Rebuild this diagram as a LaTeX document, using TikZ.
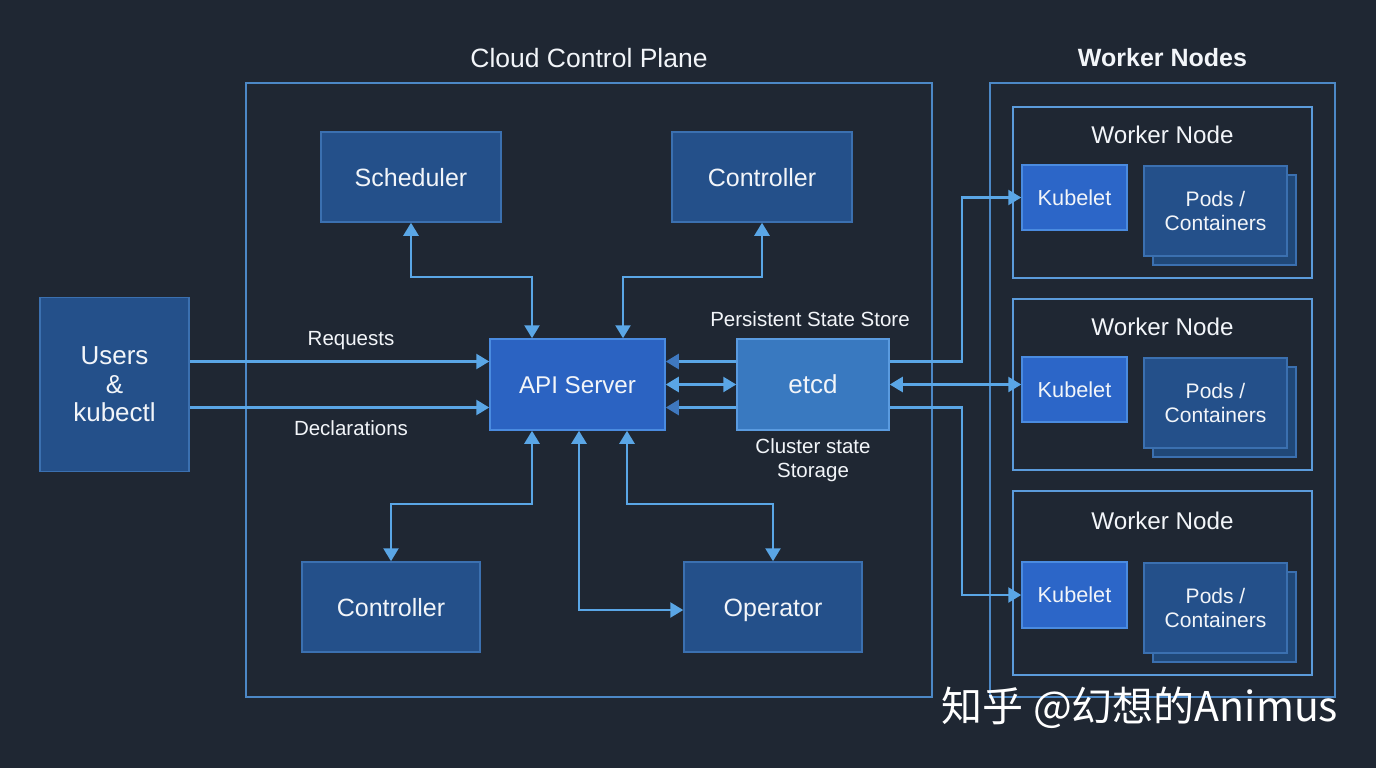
\documentclass[tikz,border=0pt]{standalone}
\usepackage{fontspec}
\setmainfont{Liberation Sans}
\newfontfamily\cjkwm{Noto Sans CJK SC}
\usetikzlibrary{arrows.meta}
\definecolor{bg}{HTML}{1F2733}
\definecolor{framec}{HTML}{4C88C6}
\definecolor{wnframe}{HTML}{5B9BDB}
\definecolor{boxfill}{HTML}{24508A}
\definecolor{boxline}{HTML}{3B70B0}
\definecolor{apifill}{HTML}{2B63C2}
\definecolor{apiline}{HTML}{4A8BE0}
\definecolor{etcdfill}{HTML}{3979C0}
\definecolor{etcdline}{HTML}{5A9BE0}
\definecolor{kubfill}{HTML}{2C66C8}
\definecolor{podback}{HTML}{204878}
\definecolor{arrowc}{HTML}{5AA6E6}
\definecolor{arrowdk}{HTML}{3F78BF}
\definecolor{txt}{HTML}{F2F5F9}
\begin{document}
\begin{tikzpicture}[x=1pt,y=-1pt,
  frame/.style={draw=framec,line width=2pt,inner sep=0pt},
  wnbox/.style={draw=wnframe,line width=2pt,inner sep=0pt,minimum width=299pt},
  box/.style={draw=boxline,fill=boxfill,line width=1.5pt,text=txt,inner sep=0pt,align=center,font=\fontsize{25}{30}\selectfont},
  oneline/.style={text height=#1,text depth=0pt},
  oneline/.default=18pt,
  apibox/.style={box,oneline=17.4pt,draw=apiline,fill=apifill},
  etcdbox/.style={box,oneline=17pt,draw=etcdline,fill=etcdfill},
  kubbox/.style={box,oneline=15.6pt,draw=apiline,fill=kubfill,minimum width=105pt,font=\fontsize{21.7}{26}\selectfont},
  podbox/.style={box,minimum width=143pt,minimum height=90pt,font=\fontsize{21}{24.5}\selectfont},
  podbk/.style={draw=boxline,fill=podback,line width=1.5pt,inner sep=0pt,minimum width=143pt,minimum height=90pt},
  lbl/.style={text=txt,font=\fontsize{20.5}{24}\selectfont,align=center,inner sep=0pt},
  ttl/.style={text=txt,font=\fontsize{26.5}{30}\selectfont,inner sep=0pt},
  arr/.style={draw=arrowc,line width=2.5pt,-{Triangle[length=13pt,width=15pt]}},
  arrdk/.style={draw=arrowc,line width=2.5pt,-{Triangle[length=13pt,width=15pt,color=arrowdk]}},
  biarr/.style={draw=arrowc,line width=2.5pt,{Triangle[length=13pt,width=15pt]}-{Triangle[length=13pt,width=15pt]}}
]
\fill[bg] (0,0) rectangle (1376,768);
\useasboundingbox (0,0) rectangle (1376,768);

% frames
\node[frame,minimum width=686pt,minimum height=614pt] (cp) at (589,390) {};
\node[ttl] (cptitle) at (589,58) {Cloud Control Plane};
\node[frame,minimum width=345pt,minimum height=614pt] (wk) at (1162.5,390) {};
\node[ttl,font=\fontsize{25}{30}\selectfont\bfseries] (wktitle) at (1162.5,58) {Worker Nodes};

% worker nodes
\node[wnbox,minimum height=171pt] (wn1) at (1162.5,192.5) {};
\node[wnbox,minimum height=171pt] (wn2) at (1162.5,384.5) {};
\node[wnbox,minimum height=184pt] (wn3) at (1162.5,583) {};
\node[ttl,font=\fontsize{24.2}{28}\selectfont] (wn1t) at (1162.5,135) {Worker Node};
\node[ttl,font=\fontsize{24.2}{28}\selectfont] (wn2t) at (1162.5,327) {Worker Node};
\node[ttl,font=\fontsize{24.2}{28}\selectfont] (wn3t) at (1162.5,521) {Worker Node};

\node[kubbox,minimum height=65pt] (kub1) at (1074.5,197.5) {Kubelet};
\node[kubbox,minimum height=65pt] (kub2) at (1074.5,389.5) {Kubelet};
\node[kubbox,minimum height=66pt] (kub3) at (1074.5,595) {Kubelet};

\node[podbk] (pb1) at (1224.5,220) {};
\node[podbox] (pod1) at (1215.5,211) {Pods /\\Containers};
\node[podbk] (pb2) at (1224.5,412) {};
\node[podbox] (pod2) at (1215.5,403) {Pods /\\Containers};
\node[podbk] (pb3) at (1224.5,617) {};
\node[podbox] (pod3) at (1215.5,608) {Pods /\\Containers};

% control plane boxes
\node[box,oneline,minimum width=180pt,minimum height=90pt] (sched) at (411,177) {Scheduler};
\node[box,oneline,minimum width=180pt,minimum height=90pt] (ctrl1) at (762,177) {Controller};
\node[apibox,minimum width=175pt,minimum height=91pt,font=\fontsize{24.2}{28}\selectfont] (api) at (577.5,384.5) {API Server};
\node[etcdbox,minimum width=152pt,minimum height=91pt,font=\fontsize{26}{28}\selectfont] (etcd) at (813,384.5) {etcd};
\node[box,oneline,minimum width=178pt,minimum height=90pt] (ctrl2) at (391,607) {Controller};
\node[box,oneline,minimum width=178pt,minimum height=90pt] (op) at (773,607) {Operator};
\node[box,minimum width=149pt,minimum height=174pt,font=\fontsize{26}{28.5}\selectfont] (users) at (114.5,384.5) {Users\\\&\\kubectl};

% labels
\node[lbl] (lreq) at (351,341) {Requests};
\node[lbl] (ldec) at (351,428) {Declarations};
\node[lbl] (lpss) at (810,319) {Persistent State Store};
\node[lbl] (lcss) at (813,460) {Cluster state\\Storage};

% users -> api
\draw[arr] ([yshift=23pt]users.east) -- ([yshift=23pt]api.west);
\draw[arr] ([yshift=-23pt]users.east) -- ([yshift=-23pt]api.west);

% top connectors
\draw[biarr] (sched.south) -- ++(0,54) -| ([xshift=-45.5pt]api.north);
\draw[biarr] (ctrl1.south) -- ++(0,54) -| ([xshift=45.5pt]api.north);

% bottom connectors
\draw[biarr] ([xshift=-45.5pt]api.south) -- ++(0,73) -| (ctrl2.north);
\draw[biarr] ([xshift=1.5pt]api.south) |- ([yshift=-3pt]op.west);
\draw[biarr] ([xshift=49.5pt]api.south) -- ++(0,73) -| (op.north);

% api <-> etcd
\draw[arrdk] ([yshift=23pt]etcd.west) -- ([yshift=23pt]api.east);
\draw[biarr] (etcd.west) -- (api.east);
\draw[arrdk] ([yshift=-23pt]etcd.west) -- ([yshift=-23pt]api.east);

% etcd -> kubelets
\coordinate (jx) at (962,0);
\draw[arr] ([yshift=23pt]etcd.east) -| (jx |- kub1.west) -- (kub1.west);
\draw[biarr] (etcd.east) -- (etcd.east -| kub2.west);
\draw[arr] ([yshift=-23pt]etcd.east) -| (jx |- kub3.west) -- (kub3.west);

% watermark
\node[text=white,font=\cjkwm\fontsize{41}{44}\selectfont,inner sep=0pt] (wm) at (1140,708) {知乎 @幻想的Animus};
\end{tikzpicture}
\end{document}
